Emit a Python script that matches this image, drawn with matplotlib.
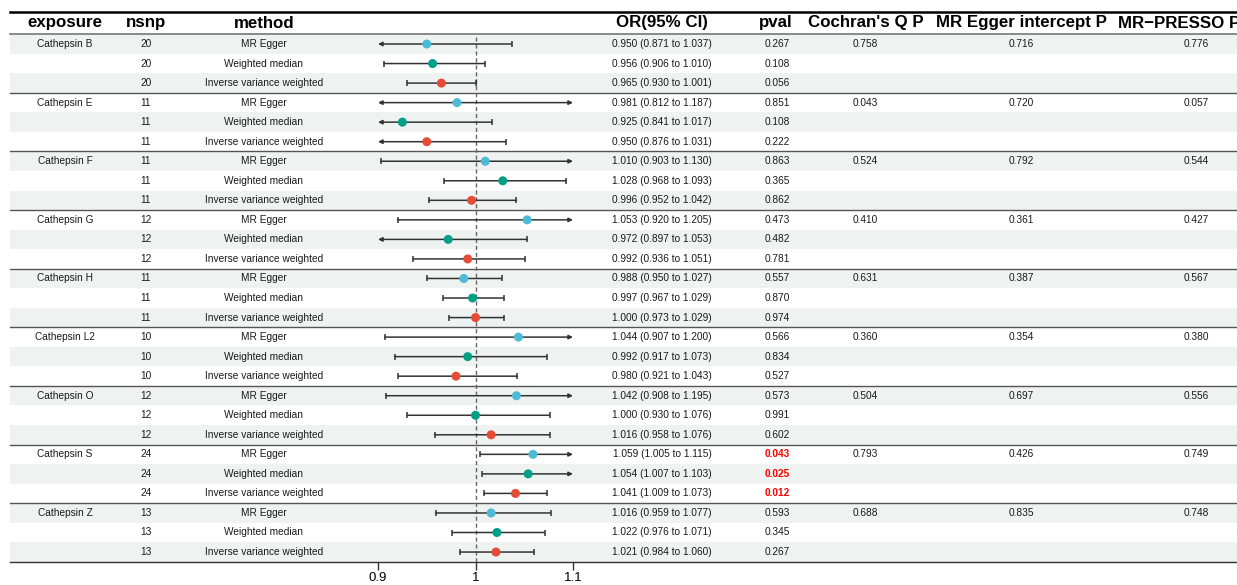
import numpy as np
import matplotlib.pyplot as plt

plt.rcParams['font.family'] = ['Liberation Sans', 'DejaVu Sans']

#--- data ---
exposures = ['Cathepsin B', 'Cathepsin E', 'Cathepsin F', 'Cathepsin G', 'Cathepsin H',
             'Cathepsin L2', 'Cathepsin O', 'Cathepsin S', 'Cathepsin Z']
nsnp = [20, 11, 11, 12, 11, 10, 12, 24, 13]
methods = ['MR Egger', 'Weighted median', 'Inverse variance weighted']

or_ = [0.950, 0.956, 0.965,  0.981, 0.925, 0.950,  1.010, 1.028, 0.996,
       1.053, 0.972, 0.992,  0.988, 0.997, 1.000,  1.044, 0.992, 0.980,
       1.042, 1.000, 1.016,  1.059, 1.054, 1.041,  1.016, 1.022, 1.021]
lo = [0.871, 0.906, 0.930,  0.812, 0.841, 0.876,  0.903, 0.968, 0.952,
      0.920, 0.897, 0.936,  0.950, 0.967, 0.973,  0.907, 0.917, 0.921,
      0.908, 0.930, 0.958,  1.005, 1.007, 1.009,  0.959, 0.976, 0.984]
hi = [1.037, 1.010, 1.001,  1.187, 1.017, 1.031,  1.130, 1.093, 1.042,
      1.205, 1.053, 1.051,  1.027, 1.029, 1.029,  1.200, 1.073, 1.043,
      1.195, 1.076, 1.076,  1.115, 1.103, 1.073,  1.077, 1.071, 1.060]
pval = [0.267, 0.108, 0.056,  0.851, 0.108, 0.222,  0.863, 0.365, 0.862,
        0.473, 0.482, 0.781,  0.557, 0.870, 0.974,  0.566, 0.834, 0.527,
        0.573, 0.991, 0.602,  0.043, 0.025, 0.012,  0.593, 0.345, 0.267]
cochran_q = [0.758, 0.043, 0.524, 0.410, 0.631, 0.360, 0.504, 0.793, 0.688]
egger_int = [0.716, 0.720, 0.792, 0.361, 0.387, 0.354, 0.697, 0.426, 0.835]
presso = [0.776, 0.057, 0.544, 0.427, 0.567, 0.380, 0.556, 0.749, 0.748]

headers = ['exposure', 'nsnp', 'method', 'OR(95% CI)', 'pval',
           "Cochran's Q P", 'MR Egger intercept P', 'MR\u2212PRESSO P']
colx = [65, 146, 264, 662, 777, 865, 1021, 1196]   # column centres (px)
hdrx = [65, 146, 264, 662, 776, 866, 1021, 1179]   # header centres (px)
mcol = ['#4DBBD5', '#00A087', '#E64B35']
shade = '#EEF2F0'

W, H = 1237, 585
y0, dy = 44, 19.54          # first row centre / row step in px
def ry(p): return (p - y0) / dy
nrow = len(or_)

fig = plt.figure(figsize=(W/100, H/100), dpi=100)
ax = fig.add_axes([0, 0, 1, 1])
ax.set_xlim(0, W)
ax.set_ylim(ry(H), ry(0))
ax.axis('off')

# row shading
rows = np.arange(nrow)
ax.barh(rows[::2], W - 10, left=10, height=1, color=shade, zorder=0)

# lines
ax.plot([10, W], [ry(12), ry(12)], color='black', lw=1.8)
ax.plot([10, W], [-0.5, -0.5], color='#777777', lw=1.2)
for g in range(1, len(exposures)):
    ax.plot([10, W], [3*g - 0.5]*2, color='#555555', lw=1.0)
ax.plot([10, W], [nrow - 0.5]*2, color='#333333', lw=1.0)

# headers
for x, h in zip(hdrx, headers):
    ax.text(x, ry(23), h, ha='center', va='center', fontsize=12.2, fontweight='bold')

# table body
fs = 7.3
tc = '#1a1a1a'
for i in range(nrow):
    g, m = divmod(i, 3)
    if m == 0:
        ax.text(colx[0], i, exposures[g], ha='center', va='center', fontsize=fs, color=tc)
        ax.text(colx[5], i, '%.3f' % cochran_q[g], ha='center', va='center', fontsize=fs, color=tc)
        ax.text(colx[6], i, '%.3f' % egger_int[g], ha='center', va='center', fontsize=fs, color=tc)
        ax.text(colx[7], i, '%.3f' % presso[g], ha='center', va='center', fontsize=fs, color=tc)
    ax.text(colx[1], i, str(nsnp[g]), ha='center', va='center', fontsize=fs, color=tc)
    ax.text(colx[2], i, methods[m], ha='center', va='center', fontsize=fs, color=tc)
    ax.text(colx[3], i, '%.3f (%.3f to %.3f)' % (or_[i], lo[i], hi[i]),
            ha='center', va='center', fontsize=fs, color=tc)
    sig = pval[i] < 0.05
    ax.text(colx[4], i, '%.3f' % pval[i], ha='center', va='center', fontsize=fs,
            color='#FF0000' if sig else tc, fontweight='bold' if sig else 'normal')

#--- forest ---
xl, xr = 0.9, 1.1
fa = fig.add_axes([378/W, (H - (y0 + dy*(nrow - 0.5)))/H, 195/W, (dy*nrow)/H])
fa.set_xlim(xl, xr)
fa.set_ylim(nrow - 0.5, -0.5)
fa.patch.set_alpha(0)
for s in fa.spines.values():
    s.set_visible(False)
fa.set_yticks([])
fa.set_xticks([0.9, 1.0, 1.1])
fa.set_xticklabels(['0.9', '1', '1.1'])
fa.tick_params(axis='x', length=6, width=1, color='#333333', labelsize=9.5, pad=1)
fa.axvline(1, color='#666666', lw=1, ls=(0, (3, 2)), zorder=1)

lc = '#333333'
for i in range(nrow):
    a = max(lo[i], xl); b = min(hi[i], xr)
    cl, cr = lo[i] < xl, hi[i] > xr
    style = {(False, False): '-', (True, False): '<|-', (False, True): '-|>',
             (True, True): '<|-|>'}[(cl, cr)]
    fa.annotate('', xy=(b, i), xytext=(a, i), annotation_clip=False,
                arrowprops=dict(arrowstyle=style, color=lc, lw=1.1,
                                shrinkA=0, shrinkB=0, mutation_scale=6))
    if not cl:
        fa.plot(a, i, marker='|', ms=5, mew=1.1, color=lc, clip_on=False)
    if not cr:
        fa.plot(b, i, marker='|', ms=5, mew=1.1, color=lc, clip_on=False)
fa.scatter(or_, rows, c=[mcol[k % 3] for k in rows], s=42, zorder=4,
           clip_on=False, linewidths=0)

fig.savefig('out.png', dpi=100)
